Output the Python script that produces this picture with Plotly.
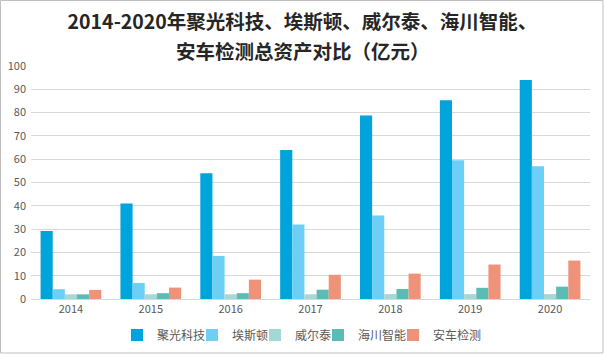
import plotly.graph_objects as go

years = ["2014", "2015", "2016", "2017", "2018", "2019", "2020"]
juguang = [29.2, 41.0, 54.0, 64.0, 78.8, 85.3, 94.0]
aisidun = [4.2, 6.9, 18.5, 32.0, 35.8, 59.5, 57.0]
weiertai = [2.0, 2.0, 2.0, 2.0, 2.1, 2.1, 2.1]
haichuan = [2.0, 2.5, 2.5, 4.0, 4.3, 4.8, 5.3]
anche = [3.9, 4.9, 8.3, 10.4, 10.9, 14.8, 16.5]

title_line1 = "2014-2020年聚光科技、埃斯顿、威尔泰、海川智能、"
title_line2 = "安车检测总资产对比（亿元）"

series = [
    ("聚光科技", juguang, "#00A4DC"),
    ("埃斯顿", aisidun, "#6DCFF6"),
    ("威尔泰", weiertai, "#A2D9D4"),
    ("海川智能", haichuan, "#5BBBB5"),
    ("安车检测", anche, "#EE937A"),
]

# plot area in pixels
L, R, T, B = 31, 15, 66, 57
W, H = 605, 356
PW, PH = W - L - R, H - T - B

font_family = "Noto Sans CJK SC, Noto Sans, sans-serif"
legend_starts = [117, 192, 255, 318, 393]  # pixel x of each legend entry

fig = go.Figure()
layout_legends = {}
for i, (name, vals, color) in enumerate(series):
    key = "legend" if i == 0 else f"legend{i + 1}"
    fig.add_trace(go.Bar(x=years, y=vals, name=name, legend=key,
                         marker=dict(color=color, line=dict(width=0))))
    layout_legends[key] = dict(
        orientation="h", x=(legend_starts[i] - L) / PW, xanchor="left",
        y=-(335 - (H - B)) / PH, yanchor="middle",
        font=dict(size=12, color="#595959"), bgcolor="rgba(0,0,0,0)",
        borderwidth=0, itemwidth=30,
    )

title_font = dict(family=font_family, size=19.5, color="#262626")
fig.update_layout(
    width=W, height=H,
    margin=dict(l=L, r=R, t=T, b=B, autoexpand=False),
    paper_bgcolor="white", plot_bgcolor="white",
    barmode="group", bargap=0.24, bargroupgap=0,
    title=dict(text=f"<b>{title_line1}</b>", x=0.5, xanchor="center",
               y=1 - 22.5 / H, yanchor="middle", font=title_font),
    font=dict(family=font_family, size=11, color="#595959"),
    xaxis=dict(showgrid=False, showline=True, linecolor="#D9D9D9", linewidth=1,
               ticks="", tickfont=dict(size=11, color="#595959")),
    yaxis=dict(range=[0, 100], dtick=10, showgrid=True, gridcolor="#D9D9D9", gridwidth=1,
               zeroline=False, showline=False, ticks="", tickfont=dict(size=11, color="#595959"),
               ticklabelstandoff=4),
    showlegend=True,
    **layout_legends,
)

fig.add_annotation(text=f"<b>{title_line2}</b>", xref="paper", yref="paper",
                   x=(W / 2 - L) / PW, y=1 + (T - 50.5) / PH, xanchor="center", yanchor="middle",
                   showarrow=False, font=title_font)

fig.add_shape(type="rect", xref="paper", yref="paper",
              x0=(0.5 - L) / PW, x1=(603 - L) / PW,
              y0=-(353 - (H - B)) / PH, y1=(T - 0.5) / PH + 1,
              line=dict(color="#BFBFBF", width=1), fillcolor="rgba(0,0,0,0)")

fig.write_html("out.html", config={"displayModeBar": False},
               post_script="document.body.style.margin='0px';")
